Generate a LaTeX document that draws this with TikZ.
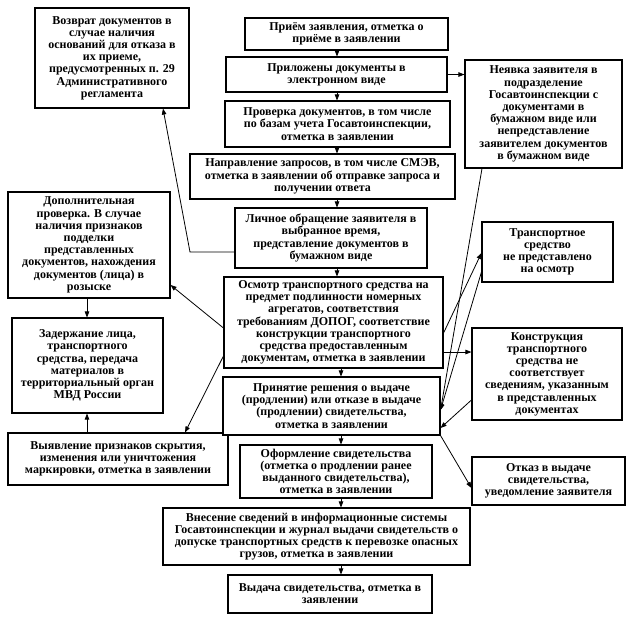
\documentclass[tikz,border=0pt]{standalone}
\usepackage{fontspec}
\setmainfont{Liberation Serif}
\usetikzlibrary{arrows.meta,calc}
\begin{document}
\begin{tikzpicture}[x=1pt,y=-1pt,
  box/.style={draw, line width=1.1pt, inner sep=0pt, align=center, fill=white,
    font=\fontsize{12}{12.2}\selectfont\bfseries},
  sz/.style 2 args={minimum width=#1pt, minimum height=#2pt},
  arr/.style={line width=0.8pt, -{Triangle[length=6pt,width=4.5pt]}}]
\fill[white] (0,0) rectangle (643,625);
\useasboundingbox (0,0) rectangle (643,625);

% left column
\node[box, sz={154}{100}] (ret) at (112,58) {Возврат документов в\\случае наличия\\оснований для отказа в\\их приеме,\\предусмотренных п. 29\\Административного\\регламента};
\node[box, sz={162}{106}] (dop) at (89,245) {Дополнительная\\проверка. В случае\\наличия признаков\\подделки\\представленных\\документов, нахождения\\документов (лица) в\\розыске};
\node[box, sz={151}{95}] (zad) at (87.5,365.5) {Задержание лица,\\транспортного\\средства, передача\\материалов в\\территориальный орган\\МВД России};
\node[box, sz={220}{52}] (vyy) at (118,459) {Выявление признаков скрытия,\\изменения или уничтожения\\маркировки, отметка в заявлении};

% central column
\node[box, sz={203}{32}] (b1) at (346.5,34) {Приём заявления, отметка о\\приёме в заявлении};
\node[box, sz={221}{35}] (b2) at (336.5,74.5) {Приложены документы в\\электронном виде};
\node[box, sz={225}{46}] (b3) at (337.5,124) {Проверка документов, в том числе\\по базам учета Госавтоинспекции,\\отметка в заявлении};
\node[box, sz={265}{45}] (b4) at (322.5,176.5) {Направление запросов, в том числе СМЭВ,\\отметка в заявлении об отправке запроса и\\получении ответа};
\node[box, sz={192}{60}] (b5) at (331,238) {Личное обращение заявителя в\\выбранное время,\\представление документов в\\бумажном виде};
\node[box, sz={219}{91}] (b6) at (333.5,322.5) {Осмотр транспортного средства на\\предмет подлинности номерных\\агрегатов, соответствия\\требованиям ДОПОГ, соответствие\\конструкции транспортного\\средства предоставленным\\документам, отметка в заявлении};
\node[box, sz={217}{58}] (b7) at (331.5,406) {Принятие решения о выдаче\\(продлении) или отказе в выдаче\\(продлении) свидетельства,\\отметка в заявлении};
\node[box, sz={192}{53}] (b8) at (336,471.5) {Оформление свидетельства\\(отметка о продлении ранее\\выданного свидетельства),\\отметка в заявлении};
\node[box, sz={307}{57}] (b9) at (316.5,536.5) {Внесение сведений в информационные системы\\Госавтоинспекции и журнал выдачи свидетельств о\\допуске транспортных средств к перевозке опасных\\грузов, отметка в заявлении};
\node[box, sz={204}{38}] (b10) at (330,594) {Выдача свидетельства, отметка в\\заявлении};

% right column
\node[box, sz={157}{108}] (nev) at (543.5,114) {Неявка заявителя в\\подразделение\\Госавтоинспекции с\\документами в\\бумажном виде или\\непредставление\\заявителем документов\\в бумажном виде};
\node[box, sz={131}{60}] (tsn) at (547.5,252) {Транспортное\\средство\\не представлено\\на осмотр};
\node[box, sz={150}{92}] (kon) at (547,374) {Конструкция\\транспортного\\средства не\\соответствует\\сведениям, указанным\\в представленных\\документах};
\node[box, sz={153}{48}] (otk) at (548.5,481) {Отказ в выдаче\\свидетельства,\\уведомление заявителя};

% helper coordinates
\coordinate (sp1) at (337,0);
\coordinate (sp2) at (341,0);
\coordinate (k1) at (190,252);
\coordinate (k2) at (163,0);
\coordinate (k3) at (0,328);
\coordinate (k4) at (0,285);
\coordinate (k5) at (0,356);
\coordinate (k6) at (185,0);
\coordinate (k7) at (87,0);
\coordinate (k8) at (482,0);
\coordinate (k9) at (0,410);
\coordinate (k10) at (0,333);
\coordinate (k11) at (0,253);
\coordinate (k12) at (0,272);
\coordinate (k13) at (0,352);
\coordinate (k14) at (0,400);
\coordinate (k15) at (0,428);
\coordinate (k16) at (0,488);

% main flow
\draw[arr] (b1.south -| sp1) -- (b2.north -| sp1);
\draw[arr] (b2.south -| sp1) -- (b3.north -| sp1);
\draw[arr] (b3.south -| sp1) -- (b4.north -| sp1);
\draw[arr] (b4.south -| sp1) -- (b5.north -| sp1);
\draw[arr] (b5.south -| sp1) -- (b6.north -| sp1);
\draw[arr] (b6.south -| sp2) -- (b7.north -| sp2);
\draw[arr] (b7.south -| sp2) -- (b8.north -| sp2);
\draw[arr] (b8.south -| sp2) -- (b9.north -| sp2);
\draw[arr] (b9.south -| sp2) -- (b10.north -| sp2);

% branches
\draw[arr] (b2.east) -- (b2.east -| nev.west);
\draw[arr] (b5.west |- k1) -- (k1) -- (ret.south -| k2);
\draw[arr] (b6.west |- k3) -- (dop.east |- k4);
\draw[arr] (b6.west |- k5) -- (vyy.north -| k6);
\draw[arr] (dop.south -| k7) -- (zad.north -| k7);
\draw[arr] (vyy.north -| k7) -- (zad.south -| k7);
\draw[arr] (nev.south -| k8) -- (b7.east |- k9);
\draw[arr] (b6.east |- k10) -- (tsn.west |- k11);
\draw[arr] (tsn.west |- k12) -- (b7.east |- k9);
\draw[arr] (b6.east |- k13) -- (kon.west |- k13);
\draw[arr] (kon.west |- k14) -- (b7.east |- k15);
\draw[arr] (b7.south east) -- (otk.west |- k16);
\end{tikzpicture}
\end{document}
